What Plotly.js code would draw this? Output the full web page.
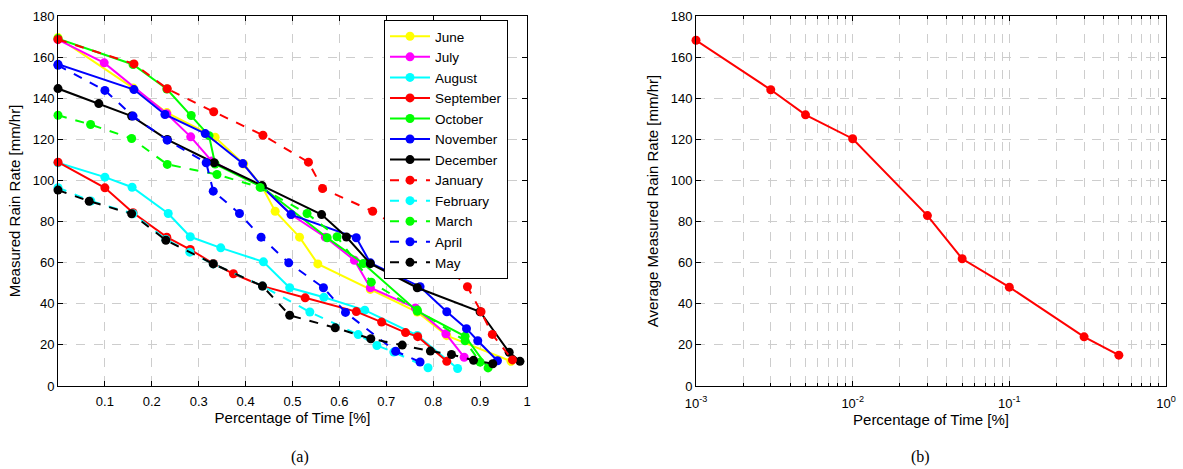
<!DOCTYPE html>
<html>
<head>
<meta charset="utf-8">
<script src="https://cdn.plot.ly/plotly-3.0.1.min.js"></script>
<style>html,body{margin:0;padding:0;background:#fff;}#chart{width:1183px;height:469px;}</style>
</head>
<body>
<div id="chart"></div>
<script>
// ---- Data: panel (a) ----
const monthNames = ["June","July","August","September","October","November","December","January","February","March","April","May"];

const juneX = [0, 0.16, 0.232, 0.335, 0.396, 0.435, 0.463, 0.515, 0.554, 0.666, 0.766, 0.829, 0.966];
const juneY = [169.5, 145, 133, 121, 108, 97, 85, 72.4, 59.4, 47, 36, 24.5, 12];

const julyX = [0, 0.0985, 0.232, 0.283, 0.328, 0.435, 0.497, 0.570, 0.632, 0.666, 0.762, 0.827, 0.866];
const julyY = [168.5, 157.2, 132.4, 121.2, 109.4, 97, 83.4, 72.4, 61.2, 47.8, 38, 25.4, 14];

const augustX = [0, 0.1, 0.158, 0.235, 0.282, 0.347, 0.438, 0.494, 0.567, 0.654, 0.766, 0.852];
const augustY = [108.6, 101.6, 96.7, 83.9, 72.6, 67.2, 60.4, 47.8, 43.2, 36.9, 24.6, 8.5];

const septemberX = [0, 0.1, 0.16, 0.232, 0.282, 0.331, 0.374, 0.436, 0.527, 0.636, 0.690, 0.741, 0.767, 0.829];
const septemberY = [108.9, 96.4, 84.3, 72.4, 66.4, 59.6, 54.6, 48.6, 42.9, 36.2, 31.1, 26, 24, 12];

const octoberX = [0, 0.16, 0.232, 0.284, 0.322, 0.335, 0.435, 0.574, 0.651, 0.766, 0.868, 0.917];
const octoberY = [169, 156.4, 144.5, 131.6, 121.8, 108, 96.8, 72.1, 59.6, 36.4, 24.2, 8.8];

const novemberX = [0, 0.162, 0.228, 0.314, 0.394, 0.435, 0.497, 0.636, 0.666, 0.772, 0.829, 0.871, 0.895, 0.937];
const novemberY = [156.5, 144.2, 132.1, 122.8, 108.2, 97, 83.4, 72.1, 59.9, 48.3, 36.1, 27.9, 22, 12.3];

const decemberX = [0, 0.087, 0.157, 0.233, 0.333, 0.435, 0.562, 0.615, 0.666, 0.766, 0.900, 0.962, 0.985];
const decemberY = [144.7, 137.4, 131.3, 119.9, 108.6, 97.5, 83.4, 72.5, 59.5, 47.8, 36.1, 16.4, 12];

const januaryX = [0, 0.162, 0.233, 0.332, 0.437, 0.534, 0.564, 0.671, 0.775, 0.873, 0.902, 0.926, 0.969];
const januaryY = [168.6, 156.7, 144.6, 133.4, 122, 108.9, 96.1, 85, 70, 48.3, 36.1, 25.1, 12.7];

const februaryX = [0, 0.07, 0.16, 0.23, 0.281, 0.331, 0.436, 0.537, 0.640, 0.680, 0.716, 0.789];
const februaryY = [96.5, 90, 83.8, 71.3, 65.1, 59.4, 48.6, 36, 25, 19.7, 16.5, 8.9];

const marchX = [0, 0.0695, 0.157, 0.233, 0.339, 0.431, 0.531, 0.595, 0.668, 0.766, 0.868, 0.900];
const marchY = [131.7, 127.2, 120.4, 107.8, 102.9, 96.6, 83.9, 72.6, 50.5, 37, 22, 11.6];

const aprilX = [0, 0.1, 0.16, 0.233, 0.316, 0.331, 0.387, 0.433, 0.492, 0.566, 0.613, 0.720, 0.772];
const aprilY = [156, 143.8, 131.3, 119.6, 108.6, 94.8, 83.9, 72.4, 59.9, 47.8, 35.8, 16.9, 11.7];

const mayX = [0, 0.0665, 0.157, 0.23, 0.331, 0.436, 0.494, 0.591, 0.667, 0.734, 0.794, 0.839, 0.886, 0.927];
const mayY = [95.3, 89.9, 83.8, 70.9, 59.4, 48.6, 34.4, 28.3, 23, 19.9, 17, 15.3, 12.5, 10.8];

const xTickVals = [0.1,0.2,0.3,0.4,0.5,0.6,0.7,0.8,0.9,1];
const xTickText = ["0.1","0.2","0.3","0.4","0.5","0.6","0.7","0.8","0.9","1"];
const yTickVals = [0,20,40,60,80,100,120,140,160,180];

// ---- Data: panel (b) ----
const avgX = [0.001, 0.003, 0.005, 0.01, 0.03, 0.05, 0.1, 0.3, 0.5];
const avgY = [168.2, 144.1, 131.9, 120.3, 82.9, 61.9, 48.1, 23.9, 15];
const logTickVals = [0.001, 0.01, 0.1, 1];
const logTickText = ["10<sup>-3</sup>","10<sup>-2</sup>","10<sup>-1</sup>","10<sup>0</sup>"];

// ---- Build ----
const seriesX = [juneX, julyX, augustX, septemberX, octoberX, novemberX, decemberX, januaryX, februaryX, marchX, aprilX, mayX];
const seriesY = [juneY, julyY, augustY, septemberY, octoberY, novemberY, decemberY, januaryY, februaryY, marchY, aprilY, mayY];
const colors = ["#ffff00","#ff00ff","#00ffff","#ff0000","#00ff00","#0000ff","#000000","#ff0000","#00ffff","#00ff00","#0000ff","#000000"];
const dashes = ["solid","solid","solid","solid","solid","solid","solid","dash","dash","dash","dash","dash"];

const traces = monthNames.map((name, i) => ({
  type: "scatter", mode: "lines+markers", name: name,
  x: seriesX[i], y: seriesY[i], xaxis: "x", yaxis: "y",
  line: {color: colors[i], width: 2, dash: dashes[i]},
  marker: {color: colors[i], size: 9},
  cliponaxis: false
}));

traces.push({
  type: "scatter", mode: "lines+markers", showlegend: false,
  x: avgX, y: avgY, xaxis: "x2", yaxis: "y2",
  line: {color: "#ff0000", width: 2},
  marker: {color: "#ff0000", size: 9},
  cliponaxis: false
});

const minorLog = [];
for (let e = -3; e < 0; e++) for (let m = 2; m <= 9; m++) minorLog.push(m * Math.pow(10, e));

const tickFont = {family: "Liberation Sans, Arial, sans-serif", size: 13, color: "#000"};
const titleFont = {family: "Liberation Sans, Arial, sans-serif", size: 15, color: "#000"};
const gridCol = "#cdcdcd";

const baseAxis = {
  showline: true, linecolor: "#000", linewidth: 1, mirror: "ticks",
  ticks: "inside", ticklen: 5, tickcolor: "#000",
  showgrid: true, gridcolor: gridCol, griddash: "dash", gridwidth: 1,
  zeroline: false, tickfont: tickFont
};

const L0 = 58/1183, L1 = 527/1183, R0 = 696/1183, R1 = 1166/1183;
const Y0 = (469-386)/469, Y1 = (469-16)/469;

const layout = {
  width: 1183, height: 469,
  margin: {l: 0, r: 0, t: 0, b: 0},
  paper_bgcolor: "#fff", plot_bgcolor: "#fff",
  showlegend: true,
  legend: {
    x: 384/1183, y: (469-20)/469, xanchor: "left", yanchor: "top",
    bgcolor: "#fff", bordercolor: "#000", borderwidth: 1,
    font: {family: "Liberation Sans, Arial, sans-serif", size: 13.5, color: "#000"},
    tracegroupgap: 0, itemwidth: 40
  },
  xaxis: Object.assign({}, baseAxis, {
    domain: [L0, L1], range: [0, 1], anchor: "y",
    tickmode: "array", tickvals: xTickVals, ticktext: xTickText, ticklabelstandoff: 3,
    title: {text: "Percentage of Time [%]", font: titleFont, standoff: 4}
  }),
  yaxis: Object.assign({}, baseAxis, {
    domain: [Y0, Y1], range: [0, 180], anchor: "x",
    tickmode: "array", tickvals: yTickVals,
    title: {text: "Measured Rain Rate [mm/hr]", font: titleFont, standoff: 8}
  }),
  xaxis2: Object.assign({}, baseAxis, {
    domain: [R0, R1], type: "log", range: [-3, 0], anchor: "y2",
    tickmode: "array", tickvals: logTickVals, ticktext: logTickText, ticklabelstandoff: 5,
    minor: {tickmode: "array", tickvals: minorLog, ticks: "inside", ticklen: 3, tickcolor: "#000",
            showgrid: true, gridcolor: gridCol, griddash: "dash", gridwidth: 1},
    title: {text: "Percentage of Time [%]", font: titleFont, standoff: 2}
  }),
  yaxis2: Object.assign({}, baseAxis, {
    domain: [Y0, Y1], range: [0, 180], anchor: "x2",
    tickmode: "array", tickvals: yTickVals,
    title: {text: "Average Measured Rain Rate [mm/hr]", font: titleFont, standoff: 8}
  }),
  annotations: [
    {text: "(a)", xref: "paper", yref: "paper", x: 300/1183, y: (469-457)/469, xanchor: "center", yanchor: "middle",
     showarrow: false, font: {family: "Liberation Serif, Times New Roman, serif", size: 16, color: "#000"}},
    {text: "(b)", xref: "paper", yref: "paper", x: 920/1183, y: (469-457)/469, xanchor: "center", yanchor: "middle",
     showarrow: false, font: {family: "Liberation Serif, Times New Roman, serif", size: 16, color: "#000"}}
  ]
};

Plotly.newPlot("chart", traces, layout, {displayModeBar: false, staticPlot: true});
</script>
</body>
</html>
